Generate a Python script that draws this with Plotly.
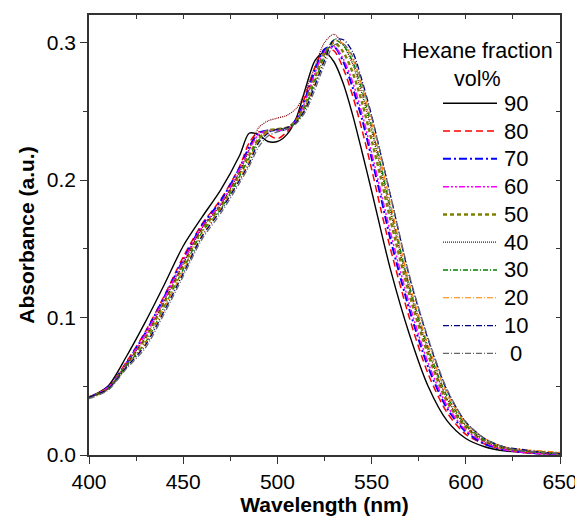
import plotly.graph_objects as go

wavelength = [400, 410, 420, 430, 440, 450, 460, 470, 480, 485, 490, 495, 500, 505,
              510, 515, 520, 525, 530, 535, 540, 545, 550, 555, 560, 570, 580, 590,
              600, 610, 620, 630, 640, 650]

hex90 = [.042, .050, .072, .097, .124, .152, .173, .193, .218, .234, .233, .228, .228, .233,
         .245, .267, .287, .293, .286, .270, .247, .220, .192, .163, .135, .088, .050, .025,
         .012, .006, .003, .002, .001, .001]
hex80 = [.042, .049, .068, .090, .116, .144, .168, .186, .210, .227, .235, .233, .230, .235,
         .244, .262, .282, .295, .294, .281, .261, .236, .208, .178, .150, .100, .059, .031,
         .015, .008, .004, .002, .001, .001]
hex70 = [.042, .049, .067, .089, .115, .142, .167, .185, .209, .224, .234, .236, .236, .237,
         .244, .260, .280, .295, .297, .286, .267, .244, .216, .187, .157, .106, .064, .034,
         .017, .008, .004, .002, .001, .001]
hex60 = [.042, .049, .067, .088, .114, .141, .166, .183, .208, .222, .233, .236, .236, .237,
         .243, .258, .278, .293, .297, .288, .271, .248, .220, .191, .162, .110, .067, .036,
         .018, .009, .004, .002, .001, .001]
hex50 = [.042, .048, .066, .085, .111, .138, .164, .181, .205, .218, .230, .236, .237, .238,
         .243, .256, .275, .292, .300, .293, .278, .256, .229, .201, .171, .117, .073, .039,
         .020, .010, .005, .003, .002, .001]
hex40 = [.042, .048, .066, .086, .112, .139, .165, .182, .206, .222, .238, .243, .245, .247,
         .252, .265, .283, .300, .306, .298, .284, .262, .236, .207, .177, .121, .076, .041,
         .021, .010, .005, .003, .002, .001]
hex30 = [.042, .048, .065, .082, .108, .135, .162, .179, .203, .216, .229, .235, .237, .238,
         .242, .254, .272, .290, .302, .298, .286, .265, .239, .210, .180, .123, .078, .043,
         .022, .011, .006, .003, .002, .001]
hex20 = [.042, .048, .064, .081, .107, .134, .160, .179, .201, .214, .228, .235, .237, .238,
         .242, .253, .270, .288, .301, .299, .288, .268, .242, .213, .183, .125, .080, .045,
         .023, .012, .006, .004, .003, .002]
hex10 = [.042, .048, .064, .080, .105, .132, .159, .178, .200, .212, .227, .234, .237, .238,
         .242, .252, .269, .287, .302, .302, .293, .272, .247, .218, .189, .130, .084, .047,
         .024, .012, .006, .004, .002, .001]
hex0 = [.041, .047, .063, .078, .103, .130, .157, .176, .198, .210, .224, .232, .235, .237,
        .241, .250, .266, .284, .298, .299, .290, .270, .246, .218, .189, .131, .085, .048,
        .024, .012, .006, .003, .002, .001]

series_names = ["90", "80", "70", "60", "50", "40", "30", "20", "10", "0"]
series_values = [hex90, hex80, hex70, hex60, hex50, hex40, hex30, hex20, hex10, hex0]
legend_title = "Hexane fraction<br>vol%"

styles = [
    dict(color="#000000", dash="solid", width=1.4),
    dict(color="#FF0000", dash="7px,4px", width=1.5),
    dict(color="#0000FF", dash="8px,3px,2px,3px", width=2),
    dict(color="#FF00FF", dash="6px,2px,2px,2px,2px,2px", width=1.5),
    dict(color="#808000", dash="4px,3px", width=2.5),
    dict(color="#800000", dash="1px,1px", width=1.2),
    dict(color="#008000", dash="5px,2px,1px,2px", width=1.3),
    dict(color="#FF8000", dash="6px,2px,1px,2px", width=1.2),
    dict(color="#000080", dash="6px,2px,1px,2px", width=1.3),
    dict(color="#666666", dash="6px,2px,1px,2px", width=1.3),
]

# The page body has an 8px default margin; size the figure so the plot area
# lands at page pixels x 89..560, y 15..455.
PAGE_OFF = 8
W, H = 583 - PAGE_OFF, 526 - PAGE_OFF
L, R, T, B = 89 - PAGE_OFF, 23, 15 - PAGE_OFF, 71
PW, PH = W - L - R, H - T - B


def px2paper(xp, yp):
    """page pixel -> paper coordinate"""
    return (xp - PAGE_OFF - L) / PW, (H - B - (yp - PAGE_OFF)) / PH


fig = go.Figure()
for name, vals, st in zip(series_names, series_values, styles):
    fig.add_trace(go.Scatter(
        x=wavelength, y=vals, name=name, mode="lines", showlegend=False,
        line=dict(color=st["color"], dash=st["dash"], width=st["width"],
                  shape="spline", smoothing=0.8),
    ))

# invisible trace to carry the mirrored (inside-tick) axes
fig.add_trace(go.Scatter(x=[wavelength[0]], y=[hex90[0]], xaxis="x2", yaxis="y2",
                         mode="markers", marker=dict(opacity=0), showlegend=False,
                         hoverinfo="skip"))

# manual legend (line samples + labels)
shapes, annotations = [], []
row0, row_step = 103.3, 27.78
for i, (name, st) in enumerate(zip(series_names, styles)):
    yp = row0 + i * row_step
    x0, y0 = px2paper(443, yp)
    x1, _ = px2paper(497, yp)
    shapes.append(dict(type="line", xref="paper", yref="paper", x0=x0, x1=x1, y0=y0, y1=y0,
                       line=dict(color=st["color"], dash=st["dash"], width=st["width"])))
    tx, ty = px2paper(515.5, yp)
    annotations.append(dict(text=name, xref="paper", yref="paper", x=tx, y=ty,
                            xanchor="center", yanchor="middle", showarrow=False,
                            font=dict(size=22, color="#000000")))
tx, ty = px2paper(477, 65.5)
annotations.append(dict(text=legend_title, xref="paper", yref="paper", x=tx, y=ty,
                        xanchor="center", yanchor="middle", showarrow=False, align="center",
                        font=dict(size=21.5, color="#000000")))

axis_font = dict(family="Liberation Sans, Arial, sans-serif", size=21, color="#000000")
line_col = "#333333"

fig.update_layout(
    width=W, height=H,
    margin=dict(l=L, r=R, t=T, b=B),
    paper_bgcolor="white", plot_bgcolor="white",
    font=dict(family="Liberation Sans, Arial, sans-serif", color="#000000"),
    xaxis=dict(range=[400, 650], dtick=50, tick0=400, ticks="outside", ticklen=7,
               tickwidth=1.3, tickcolor=line_col, automargin=False,
               minor=dict(dtick=25, ticks="outside", ticklen=4, tickcolor=line_col, tickwidth=1.3),
               showline=True, linecolor=line_col, linewidth=1.5, mirror=True,
               showgrid=False, zeroline=False, tickfont=axis_font,
               title=dict(text="<b>Wavelength (nm)</b>", font=dict(size=21), standoff=4)),
    yaxis=dict(range=[0, 0.32], dtick=0.1, tick0=0, tickformat=".1f", ticks="outside",
               ticklen=7, tickwidth=1.3, tickcolor=line_col, automargin=False,
               minor=dict(dtick=0.05, ticks="outside", ticklen=4, tickcolor=line_col, tickwidth=1.3),
               showline=True, linecolor=line_col, linewidth=1.5, mirror=True,
               showgrid=False, zeroline=False, tickfont=axis_font,
               title=dict(text="<b>Absorbance (a.u.)</b>", font=dict(size=21), standoff=6)),
    xaxis2=dict(range=[400, 650], overlaying="x", side="top", anchor="y", automargin=False,
                dtick=25, tick0=400, ticks="inside", ticklen=4, tickcolor=line_col,
                showticklabels=False, showgrid=False, zeroline=False, showline=False),
    yaxis2=dict(range=[0, 0.32], overlaying="y", side="right", anchor="x", automargin=False,
                dtick=0.05, tick0=0, ticks="inside", ticklen=4, tickcolor=line_col,
                showticklabels=False, showgrid=False, zeroline=False, showline=False),
    shapes=shapes,
    annotations=annotations,
    showlegend=False,
)

fig.write_html("out.html")
